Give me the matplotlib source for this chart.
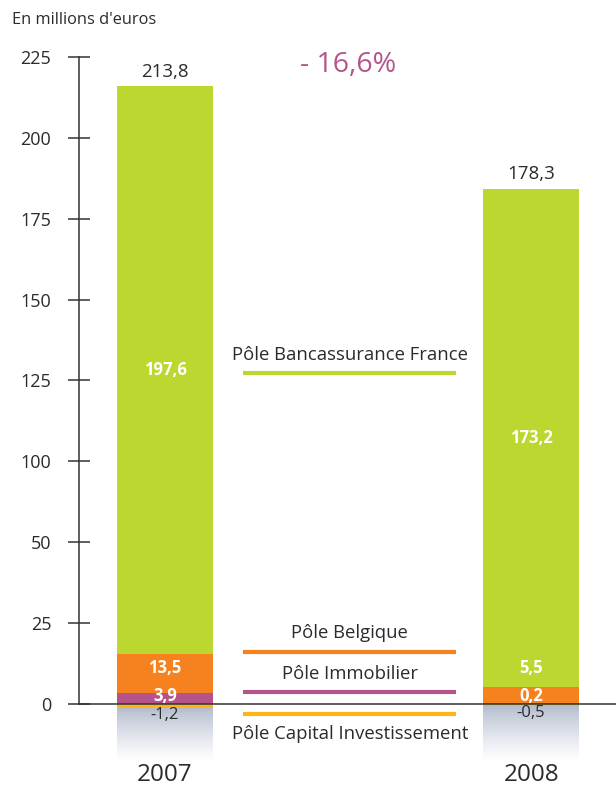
#!/usr/bin/env python3
"""Résultat net par pôle, 2007 vs 2008 (en millions d'euros)."""
import matplotlib

matplotlib.use("Agg")
import matplotlib.pyplot as plt
import numpy as np
from matplotlib.colors import LinearSegmentedColormap
from matplotlib.transforms import blended_transform_factory

plt.rcParams["font.family"] = ["Open Sans", "DejaVu Sans"]

YEARS = ["2007", "2008"]
TOTALS = [213.8, 178.3]
POLES = ["Pôle Capital Investissement", "Pôle Immobilier",
         "Pôle Belgique", "Pôle Bancassurance France"]
CAPITAL = [-1.2, -0.5]
IMMOBILIER = [3.9, 0.2]
BELGIQUE = [13.5, 5.5]
BANCASSURANCE = [197.6, 173.2]
COLORS = ["#fbb615", "#b5548a", "#f5821f", "#bdd731"]
YTICK_LABELS = ["0", "25", "50", "100", "125", "150", "175", "200", "225"]
VARIATION = "- 16,6%"

TEXT = "#2b2b2b"

fig = plt.figure(figsize=(6.16, 7.89), dpi=100)
ax = fig.add_axes([79 / 616, 0, 537 / 616, 1])
ax.set_xlim(-0.235, 1.232)
ax.set_ylim(-29.6, 244.8)

x = np.arange(len(YEARS))
width = 0.262

# bars: negative part below zero, then the positive segments stacked
ax.bar(x, CAPITAL, width, color=COLORS[0], zorder=3)
bottom = np.zeros(len(YEARS))
pos_series = [IMMOBILIER, BELGIQUE, BANCASSURANCE]
for vals, col in zip(pos_series, COLORS[1:]):
    ax.bar(x, vals, width, bottom=bottom, color=col, zorder=3)
    bottom += np.array(vals)

# reflet dégradé sous les barres
shade = LinearSegmentedColormap.from_list("shade", ["#b1bacc", "#ffffff"])
grad = np.linspace(0, 1, 100).reshape(-1, 1) ** 0.8
for xi, neg in zip(x, CAPITAL):
    ax.imshow(grad, cmap=shade, aspect="auto", zorder=1,
              extent=(xi - width / 2, xi + width / 2, -19.5, neg))

# valeurs dans les segments
for i in range(len(YEARS)):
    base = 0.0
    prev = None
    for vals in pos_series:
        v = vals[i]
        yc = base + v / 2
        if prev is None:
            yc = max(yc, 2.8)
        else:
            yc = max(yc, prev + 9.7)
        prev = yc
        ax.text(x[i], yc, f"{v:.1f}".replace(".", ","), ha="center",
                va="center", color="white", fontsize=12, fontweight="bold",
                zorder=5)
        base += v
    ax.text(x[i], CAPITAL[i] - 2.6, f"{CAPITAL[i]:.1f}".replace(".", ","),
            ha="center", va="center", color=TEXT, fontsize=12, zorder=5)
    ax.annotate(f"{TOTALS[i]:.1f}".replace(".", ","), (x[i], TOTALS[i]),
                xytext=(0, 6), textcoords="offset points", ha="center",
                va="bottom", fontsize=13.5, color=TEXT)

# années sous l'axe
tr = blended_transform_factory(ax.transData, ax.transAxes)
for xi, yr in zip(x, YEARS):
    ax.text(xi, 0.002, yr, transform=tr, ha="center", va="bottom",
            fontsize=17.5, color=TEXT)

# légende au centre
legend_y = [-3.5, 4.2, 18.0, 115.0]
label_dy = [-6.8, 6.3, 6.7, 6.3]
for name, col, ly, dy in zip(POLES, COLORS, legend_y, label_dy):
    ax.plot([0.213, 0.795], [ly, ly], color=col, lw=3, solid_capstyle="butt",
            zorder=4)
    ax.text(0.505, ly + dy, name, ha="center", va="center", fontsize=13.3,
            color=TEXT)

ax.text(0.5, 222.2, VARIATION, ha="center", va="center", fontsize=20.5,
        color="#b5548a")

# axes
for s in ["top", "right"]:
    ax.spines[s].set_visible(False)
ax.spines["left"].set_bounds(0, 225)
ax.spines["bottom"].set_position(("data", 0))
for s in ["left", "bottom"]:
    ax.spines[s].set_color("#333333")
    ax.spines[s].set_linewidth(1.1)
    ax.spines[s].set_zorder(6)
ax.set_xticks([])
ax.set_yticks(np.linspace(0, 225, len(YTICK_LABELS)))
ax.set_yticklabels(YTICK_LABELS)
ax.tick_params(axis="y", direction="inout", length=16, width=1.1,
               color="#333333", labelsize=13, labelcolor=TEXT, pad=12)

fig.text(12 / 616, 1 - 20 / 789, "En millions d'euros", ha="left",
         va="center", fontsize=11.8, color=TEXT)

fig.savefig("out.png", dpi=100)
